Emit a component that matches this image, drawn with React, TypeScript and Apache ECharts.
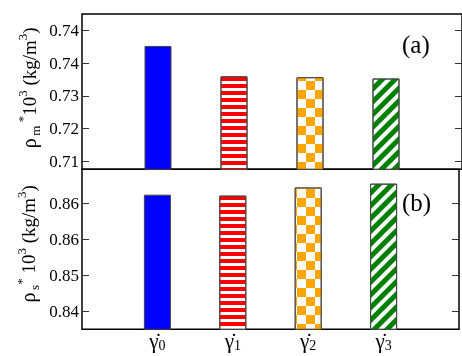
import React, { useEffect, useRef } from 'react';
import * as echarts from 'echarts';

const categories = ['', '0', '1', '2', '3', ''];
const densityM = [0.739, 0.732, 0.7318, 0.7315];
const densityS = [0.8643, 0.8641, 0.8658, 0.8666];
const tickValuesM = [0.7125, 0.72, 0.7275, 0.735, 0.7425];
const tickLabelsM = ['0.71', '0.72', '0.73', '0.74', '0.74'];
const tickValuesS = [0.84, 0.8475, 0.855, 0.8625];
const tickLabelsS = ['0.84', '0.85', '0.86', '0.86'];
const rangeM = [0.7106, 0.74635];
const rangeS = [0.83618, 0.8696];
const panelLabels = ['(a)', '(b)'];
const yNames = [
  '{rho|ρ}{sb|m}{sp| *}{r|10}{sp|3}{r| (kg/m}{sp|3}{r|)}',
  '{rho|ρ}{sb|s}{sp|*}{r| 10}{sp|3}{r| (kg/m}{sp|3}{r|)}',
];

const FONT = "'Liberation Serif', 'Times New Roman', serif";

const barStyles: any[] = [
  { color: '#0000ff' },
  {
    color: '#ffffff',
    decal: { symbol: 'rect', symbolSize: 1, color: '#ff0000', dashArrayX: [1, 0], dashArrayY: [4, 3], rotation: 0 },
  },
  {
    color: '#ffffff',
    decal: { symbol: 'rect', symbolSize: 1, color: '#ffa500', dashArrayX: [[9, 9], [0, 9, 9, 0]], dashArrayY: [9, 0], rotation: 0 },
  },
  {
    color: '#ffffff',
    decal: { symbol: 'rect', symbolSize: 1, color: '#008000', dashArrayX: [1, 0], dashArrayY: [5, 4], rotation: -Math.PI / 4 },
  },
];

function seriesData(values: number[]) {
  const out: any[] = ['-'];
  values.forEach((v, i) => {
    out.push({ value: v, itemStyle: { ...barStyles[i], borderColor: '#444', borderWidth: 1 } });
  });
  out.push('-');
  return out;
}

const nameRich = {
  rho: { fontFamily: FONT, fontSize: 20, lineHeight: 26, width: 15, fill: '#000', color: '#000' },
  r: { fontFamily: FONT, fontSize: 19, lineHeight: 26, fill: '#000', color: '#000' },
  sb: { fontFamily: FONT, fontSize: 13, lineHeight: 13, verticalAlign: 'bottom', fill: '#000', color: '#000' },
  sp: { fontFamily: FONT, fontSize: 13, lineHeight: 13, verticalAlign: 'top', fill: '#000', color: '#000' },
};

function yAxes(gridIndex: number, range: number[], ticks: number[], labels: string[]) {
  return [
    {
      type: 'value',
      gridIndex,
      position: 'left',
      min: range[0],
      max: range[1],
      axisLine: { show: false },
      splitLine: { show: false },
      axisTick: { show: true, inside: true, length: 7, customValues: ticks, lineStyle: { color: '#333', width: 1 } },
      axisLabel: {
        show: true,
        customValues: ticks,
        margin: 3,
        fontFamily: FONT,
        fontSize: 17,
        color: '#000',
        formatter: (v: number) => {
          let best = 0;
          ticks.forEach((t, i) => {
            if (Math.abs(t - v) < Math.abs(ticks[best] - v)) best = i;
          });
          return labels[best];
        },
      },
    },
    {
      type: 'value',
      gridIndex,
      position: 'right',
      min: range[0],
      max: range[1],
      axisLine: { show: false },
      splitLine: { show: false },
      axisTick: { show: true, inside: true, length: 7, customValues: ticks, lineStyle: { color: '#333', width: 1 } },
      axisLabel: { show: false },
    },
  ];
}

function xAxis(gridIndex: number, showLabels: boolean) {
  return {
    type: 'category',
    gridIndex,
    data: categories,
    boundaryGap: false,
    axisLine: { show: false },
    splitLine: { show: false },
    axisTick: {
      show: true,
      inside: true,
      length: 7,
      interval: (i: number) => i > 0 && i < categories.length - 1,
      lineStyle: { color: '#333', width: 1 },
    },
    axisLabel: {
      show: showLabels,
      interval: 0,
      margin: 1,
      fontFamily: FONT,
      formatter: (v: string) => (v === '' ? '' : '{g|γ̇}{s|' + v + '}'),
      rich: {
        g: { fontFamily: FONT, fontSize: 21, lineHeight: 22, color: '#000' },
        s: { fontFamily: FONT, fontSize: 14, lineHeight: 13, verticalAlign: 'bottom', color: '#000' },
      },
    },
  };
}

export default function App() {
  const ref = useRef<HTMLDivElement>(null);
  useEffect(() => {
    if (!ref.current) return;
    const chart = echarts.init(ref.current, null, { renderer: 'svg' });
    const gridBase = { left: 82, width: 381, show: true, borderColor: '#000', borderWidth: 1.5, backgroundColor: 'transparent' };
    chart.setOption({
      animation: false,
      grid: [
        { ...gridBase, top: 14, height: 155.3 },
        { ...gridBase, top: 169.3, height: 160 },
      ],
      xAxis: [xAxis(0, false), xAxis(1, true)],
      yAxis: [
        ...yAxes(0, rangeM, tickValuesM, tickLabelsM),
        ...yAxes(1, rangeS, tickValuesS, tickLabelsS),
      ],
      series: [
        { type: 'bar', xAxisIndex: 0, yAxisIndex: 0, barWidth: 27, data: seriesData(densityM) },
        { type: 'bar', xAxisIndex: 1, yAxisIndex: 2, barWidth: 27, data: seriesData(densityS) },
      ],
      graphic: [
        {
          type: 'text', x: 29, y: 89, rotation: Math.PI / 2,
          style: { text: yNames[0], rich: nameRich, align: 'center', verticalAlign: 'middle', fontFamily: FONT },
        },
        {
          type: 'text', x: 28, y: 245, rotation: Math.PI / 2,
          style: { text: yNames[1], rich: nameRich, align: 'center', verticalAlign: 'middle', fontFamily: FONT },
        },
        { type: 'text', left: 402, top: 32, style: { text: panelLabels[0], fontFamily: FONT, fontSize: 25, fill: '#000' } },
        { type: 'text', left: 402, top: 190, style: { text: panelLabels[1], fontFamily: FONT, fontSize: 25, fill: '#000' } },
      ],
    });
    return () => chart.dispose();
  }, []);
  return <div ref={ref} style={{ position: 'fixed', left: 0, top: 0, width: 462, height: 356 }} />;
}
